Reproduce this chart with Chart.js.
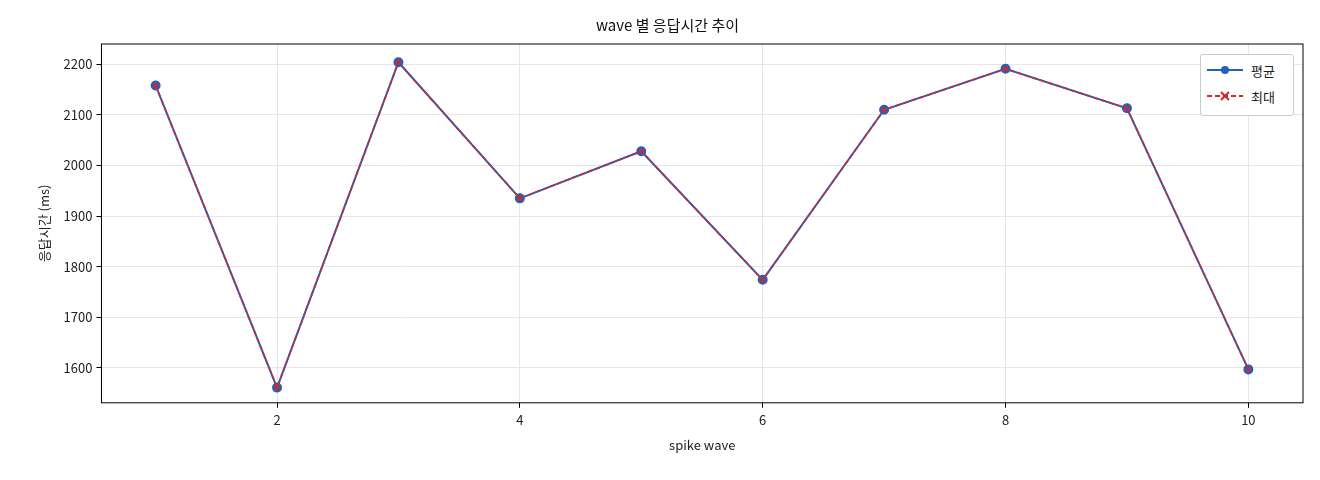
<!DOCTYPE html>
<html>
<head>
<meta charset="utf-8">
<script src="https://cdn.jsdelivr.net/npm/chart.js@4"></script>
<style>
  body { margin: 0; background: #fff; }
  #wrap { position: relative; width: 1320px; height: 480px; }
  #legend {
    position: absolute; left: 1200px; top: 54px; width: 92px; height: 60px;
    border: 1px solid #ccc; border-radius: 3px; background: #fff;
    font: 13px "Noto Sans CJK KR", sans-serif; color: #222;
  }
  .row { position: absolute; left: 6px; height: 20px; display: flex; align-items: center; }
  .row span { margin-left: 8px; }
</style>
</head>
<body>
<div id="wrap">
  <canvas id="chart" width="1320" height="480"></canvas>
  <div id="legend">
    <div class="row" style="top:5px">
      <svg width="36" height="12"><line x1="0" y1="6" x2="36" y2="6" stroke="#1f62c0" stroke-width="2"/><circle cx="18" cy="6" r="4" fill="#1f62c0"/></svg>
      <span>평균</span>
    </div>
    <div class="row" style="top:31px">
      <svg width="36" height="12"><line x1="0" y1="6" x2="36" y2="6" stroke="#d62728" stroke-width="2" stroke-dasharray="5,3"/><path d="M14 2 L22 10 M22 2 L14 10" stroke="#d62728" stroke-width="2"/></svg>
      <span>최대</span>
    </div>
  </div>
</div>
<script>
const waves = [1, 2, 3, 4, 5, 6, 7, 8, 9, 10];
const avgMs = [2158, 1561, 2204, 1935, 2028, 1774, 2110, 2191, 2113, 1597];
const maxMs = [2158, 1561, 2204, 1935, 2028, 1774, 2110, 2191, 2113, 1597];
const yTicks = [1600, 1700, 1800, 1900, 2000, 2100, 2200];
const xTicks = [2, 4, 6, 8, 10];

const font = { family: '"Noto Sans CJK KR", sans-serif', size: 13 };

// frame around plot area
const framePlugin = {
  id: 'frame',
  afterDraw(chart) {
    const a = chart.chartArea, c = chart.ctx;
    c.save();
    c.strokeStyle = '#000';
    c.lineWidth = 1;
    c.strokeRect(a.left, a.top, a.right - a.left, a.bottom - a.top);
    c.restore();
  }
};

new Chart(document.getElementById('chart').getContext('2d'), {
  type: 'line',
  data: {
    datasets: [{
      label: '평균',
      order: 1,
      data: waves.map((w, i) => ({ x: w, y: avgMs[i] })),
      borderColor: '#1f62c0',
      backgroundColor: '#1f62c0',
      borderWidth: 2,
      pointRadius: 4,
      pointStyle: 'circle',
      tension: 0
    }, {
      label: '최대',
      order: 0,
      data: waves.map((w, i) => ({ x: w, y: maxMs[i] })),
      borderColor: '#d62728',
      backgroundColor: '#d62728',
      borderWidth: 1.6,
      borderDash: [5, 3],
      pointStyle: 'cross',
      rotation: 45,
      pointRadius: 4,
      pointBorderWidth: 1.6,
      tension: 0
    }]
  },
  options: {
    responsive: false,
    animation: false,
    layout: { padding: { left: 32, right: 17, top: 6, bottom: 23 } },
    plugins: {
      legend: { display: false },
      tooltip: { enabled: false },
      title: {
        display: true, text: 'wave 별 응답시간 추이', color: '#111',
        font: { ...font, size: 15, weight: 'normal' }, padding: { top: 10, bottom: 10 }
      }
    },
    scales: {
      x: {
        type: 'linear', min: 0.554, max: 10.45,
        afterBuildTicks: s => { s.ticks = xTicks.map(v => ({ value: v })); },
        grid: { color: '#e6e6e6', tickLength: 5, tickColor: '#000' },
        border: { display: false },
        ticks: { color: '#222', font, padding: 4, callback: v => String(v) },
        title: { display: true, text: 'spike wave', color: '#222', font, padding: { top: 6 } }
      },
      y: {
        min: 1531, max: 2240,
        afterBuildTicks: s => { s.ticks = yTicks.map(v => ({ value: v })); },
        grid: { color: '#e6e6e6', tickLength: 5, tickColor: '#000' },
        border: { display: false },
        ticks: { color: '#222', font, padding: 4, callback: v => String(v) },
        title: { display: true, text: '응답시간 (ms)', color: '#222', font, padding: { bottom: 8 } }
      }
    }
  },
  plugins: [framePlugin]
});
</script>
</body>
</html>
